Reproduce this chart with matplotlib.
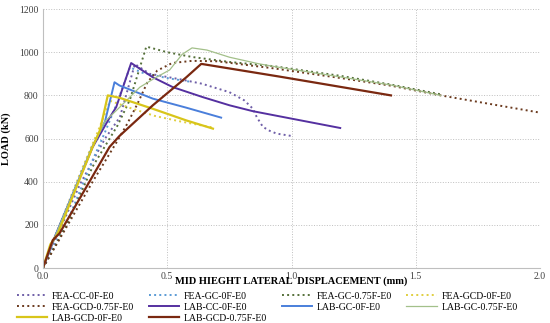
import matplotlib
matplotlib.use("Agg")
import matplotlib.pyplot as plt

plt.rcParams['font.family'] = ['Liberation Serif', 'DejaVu Serif']

# FEA curves (dotted)
fea_cc_x = [0, 0.05, 0.15, 0.25, 0.31, 0.37, 0.43, 0.55, 0.64, 0.75, 0.81, 0.845, 0.86, 0.885, 0.912, 0.94, 1.006]
fea_cc_y = [0, 130, 390, 600, 700, 945, 900, 875, 854, 815, 777, 738, 700, 654, 636, 623, 611]

fea_gc_x = [0, 0.1, 0.2, 0.25, 0.3, 0.35, 0.4, 0.5, 0.6]
fea_gc_y = [0, 220, 500, 630, 770, 930, 905, 880, 862]

fea_gc75_x = [0, 0.1, 0.2, 0.3, 0.35, 0.416, 0.5, 0.6, 0.75, 0.93, 1.2, 1.4, 1.6]
fea_gc75_y = [0, 210, 470, 660, 780, 1026, 1000, 978, 955, 935, 890, 850, 805]

fea_gcd_x = [0, 0.05, 0.15, 0.22, 0.27, 0.35, 0.45, 0.55, 0.68]
fea_gcd_y = [0, 150, 440, 630, 775, 742, 705, 680, 652]

fea_gcd75_x = [0, 0.1, 0.2, 0.3, 0.34, 0.38, 0.42, 0.46, 0.52, 0.6, 0.7, 0.93, 1.2, 1.4, 1.6, 2.0]
fea_gcd75_y = [0, 200, 400, 590, 670, 760, 860, 915, 950, 960, 958, 925, 880, 845, 800, 720]

# LAB curves (solid)
lab_cc_x = [0, 0.05, 0.2, 0.27, 0.295, 0.355, 0.442, 0.523, 0.643, 0.751, 0.844, 0.952, 1.196]
lab_cc_y = [0, 150, 560, 700, 746, 950, 884, 838, 792, 754, 727, 703, 649]

lab_gc_x = [0, 0.05, 0.2, 0.25, 0.288, 0.308, 0.442, 0.577, 0.717]
lab_gc_y = [0, 150, 565, 680, 861, 846, 785, 743, 697]

lab_gc75_x = [0, 0.05, 0.2, 0.25, 0.3, 0.39, 0.45, 0.51, 0.56, 0.6, 0.66, 0.75, 0.87, 0.95, 1.2, 1.4, 1.6]
lab_gc75_y = [0, 150, 565, 680, 735, 838, 880, 918, 990, 1020, 1010, 977, 946, 930, 885, 848, 800]

lab_gcd_x = [0, 0.03, 0.06, 0.2, 0.23, 0.261, 0.308, 0.442, 0.577, 0.684]
lab_gcd_y = [0, 110, 160, 561, 640, 800, 789, 738, 684, 646]

lab_gcd75_x = [0, 0.04, 0.067, 0.268, 0.308, 0.442, 0.577, 0.637, 0.952, 1.4]
lab_gcd75_y = [0, 130, 161, 561, 612, 754, 884, 946, 887, 800]

series = [
    ("FEA-CC-0F-E0", fea_cc_x, fea_cc_y, '#6F5FA8', ':', 1.4),
    ("FEA-GC-0F-E0", fea_gc_x, fea_gc_y, '#5B9BD5', ':', 1.4),
    ("FEA-GC-0.75F-E0", fea_gc75_x, fea_gc75_y, '#55703A', ':', 1.4),
    ("FEA-GCD-0F-E0", fea_gcd_x, fea_gcd_y, '#E0CF40', ':', 1.4),
    ("FEA-GCD-0.75F-E0", fea_gcd75_x, fea_gcd75_y, '#6B3A1E', ':', 1.4),
    ("LAB-CC-0F-E0", lab_cc_x, lab_cc_y, '#5530A0', '-', 1.4),
    ("LAB-GC-0F-E0", lab_gc_x, lab_gc_y, '#4A7FDB', '-', 1.4),
    ("LAB-GC-0.75F-E0", lab_gc75_x, lab_gc75_y, '#A3C08A', '-', 0.9),
    ("LAB-GCD-0F-E0", lab_gcd_x, lab_gcd_y, '#D8C51A', '-', 1.6),
    ("LAB-GCD-0.75F-E0", lab_gcd75_x, lab_gcd75_y, '#7A2810', '-', 1.6),
]

fig = plt.figure(figsize=(5.5, 3.23), dpi=100)
ax = fig.add_axes([0.078, 0.170, 0.904, 0.802])

lines = []
for name, xs, ys, c, ls, lw in series:
    ln, = ax.plot(xs, ys, color=c, linestyle=ls, linewidth=lw, label=name)
    lines.append(ln)

ax.set_xlim(0, 2.0)
ax.set_ylim(0, 1200)
ax.set_xticks([0, 0.5, 1.0, 1.5, 2.0])
ax.set_xticklabels(["0.0", "0.5", "1.0", "1.5", "2.0"])
ax.set_yticks(range(0, 1201, 200))
ax.tick_params(labelsize=7, length=0, colors='#404040', pad=3)
ax.grid(True, linestyle=':', color='#BFBFBF', linewidth=0.7)
ax.set_axisbelow(True)
for s in ['top', 'right']:
    ax.spines[s].set_visible(False)
for s in ['left', 'bottom']:
    ax.spines[s].set_color('#BFBFBF')

ax.set_ylabel("LOAD (kN)", fontsize=7.5, fontweight='bold', labelpad=6)
fig.text(0.53, 0.122, "MID HIEGHT LATERAL  DISPLACEMENT (mm)", ha='center',
         fontsize=7.5, fontweight='bold')

order = [0, 4, 8, 1, 5, 9, 2, 6, 3, 7]
fig.legend([lines[i] for i in order], [series[i][0] for i in order],
           loc='upper left', bbox_to_anchor=(0.022, 0.112), ncol=4, frameon=False,
           fontsize=7, handlelength=3.1, handletextpad=0.5, columnspacing=1.5,
           labelspacing=0.2, borderpad=0)

fig.savefig("out.png", dpi=100)
